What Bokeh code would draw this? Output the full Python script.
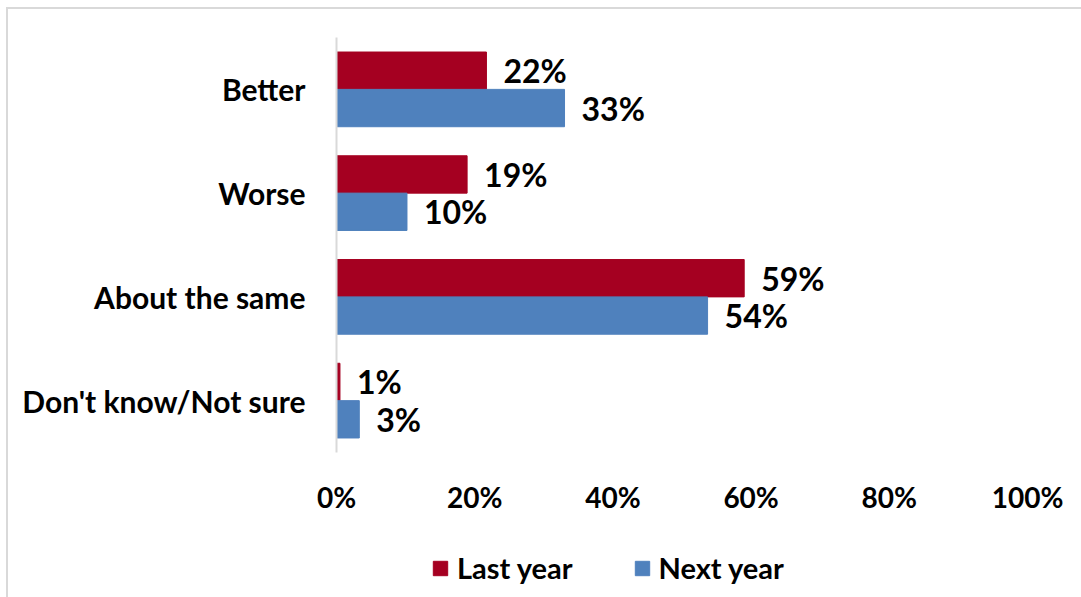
from bokeh.plotting import figure
from bokeh.layouts import column
from bokeh.models import ColumnDataSource, FactorRange, Range1d, Legend, LegendItem, FixedTicker
from bokeh.transform import dodge
from bokeh.core.properties import value
from bokeh.embed import file_html
from bokeh.resources import INLINE

categories = ["Better", "Worse", "About the same", "Don't know/Not sure"]
last_year = [21.7, 18.9, 59.0, 0.5]
next_year = [33.0, 10.2, 53.7, 3.3]
last_labels = ["22%", "19%", "59%", "1%"]
next_labels = ["33%", "10%", "54%", "3%"]
series_names = ["Last year", "Next year"]
ticks = [0, 20, 40, 60, 80, 100]
tick_labels = ["0%", "20%", "40%", "60%", "80%", "100%"]

RED = "#A50021"
BLUE = "#4F81BD"
FONT = "Lato"

src = ColumnDataSource(dict(cat=categories, last=last_year, nxt=next_year,
                            ll=last_labels, nl=next_labels))

yr = FactorRange(factors=list(reversed(categories)), range_padding=0)
xr = Range1d(0, 100)

p = figure(width=1073, height=508, output_backend="svg", toolbar_location=None,
           y_range=yr, x_range=xr,
           min_border_left=328, min_border_right=54, min_border_top=28, min_border_bottom=65)

p.outline_line_color = None
p.grid.grid_line_color = None
p.background_fill_color = "white"
p.border_fill_color = "white"

bh = 0.36
p.hbar(y=dodge("cat", 0.18, range=yr), right="last", left=0, height=bh,
       source=src, fill_color=RED, line_color=RED)
p.hbar(y=dodge("cat", -0.18, range=yr), right="nxt", left=0, height=bh,
       source=src, fill_color=BLUE, line_color=BLUE)

p.text(x="last", y=dodge("cat", 0.18, range=yr), text="ll", source=src,
       x_offset=17, text_align="left", text_baseline="middle",
       text_font=value(FONT), text_font_style="bold", text_font_size="32px", text_color="black")
p.text(x="nxt", y=dodge("cat", -0.18, range=yr), text="nl", source=src,
       x_offset=17, text_align="left", text_baseline="middle",
       text_font=value(FONT), text_font_style="bold", text_font_size="32px", text_color="black")

# axes
p.xaxis.ticker = FixedTicker(ticks=ticks)
p.xaxis.major_label_overrides = dict(zip(ticks, tick_labels))
p.xaxis.axis_line_color = None
p.xaxis.major_tick_line_color = None
p.xaxis.minor_tick_line_color = None
p.xaxis.major_label_standoff = 21
p.xaxis.major_label_text_font = FONT
p.xaxis.major_label_text_font_style = "bold"
p.xaxis.major_label_text_font_size = "28px"
p.xaxis.major_label_text_color = "black"

p.yaxis.axis_line_color = "#D9D9D9"
p.yaxis.axis_line_width = 2
p.yaxis.major_tick_line_color = None
p.yaxis.minor_tick_line_color = None
p.yaxis.major_label_standoff = 25
p.yaxis.major_label_text_font = FONT
p.yaxis.major_label_text_font_style = "bold"
p.yaxis.major_label_text_font_size = "30px"
p.yaxis.major_label_text_color = "black"

# legend panel (frame aligned with the chart above)
p2 = figure(width=1073, height=80, output_backend="svg", toolbar_location=None,
            x_range=xr, y_range=yr,
            min_border_left=328, min_border_right=54, min_border_top=0, min_border_bottom=0)
p2.axis.visible = False
p2.grid.grid_line_color = None
p2.outline_line_color = None
p2.border_fill_color = "white"
l1 = p2.hbar(y="cat", right="last", height=bh, source=src, fill_color=RED, line_color=RED, visible=False)
l2 = p2.hbar(y="cat", right="nxt", height=bh, source=src, fill_color=BLUE, line_color=BLUE, visible=False)
legend = Legend(items=[LegendItem(label=series_names[0], renderers=[l1]),
                       LegendItem(label=series_names[1], renderers=[l2])],
                orientation="horizontal", location=(95, 12),
                label_text_font=FONT, label_text_font_style="bold",
                label_text_font_size="29px", label_text_color="black",
                glyph_width=18, glyph_height=18, spacing=60, label_standoff=8,
                inactive_fill_alpha=0,
                border_line_color=None, background_fill_alpha=0, padding=0, margin=0)
p2.add_layout(legend, "center")

layout = column(p, p2, spacing=0)
layout.margin = (7, 0, 0, 6)
layout.styles = {"border-top": "2px solid #D9D9D9", "border-left": "2px solid #D9D9D9"}

open("out.html", "w").write(file_html(layout, INLINE))
